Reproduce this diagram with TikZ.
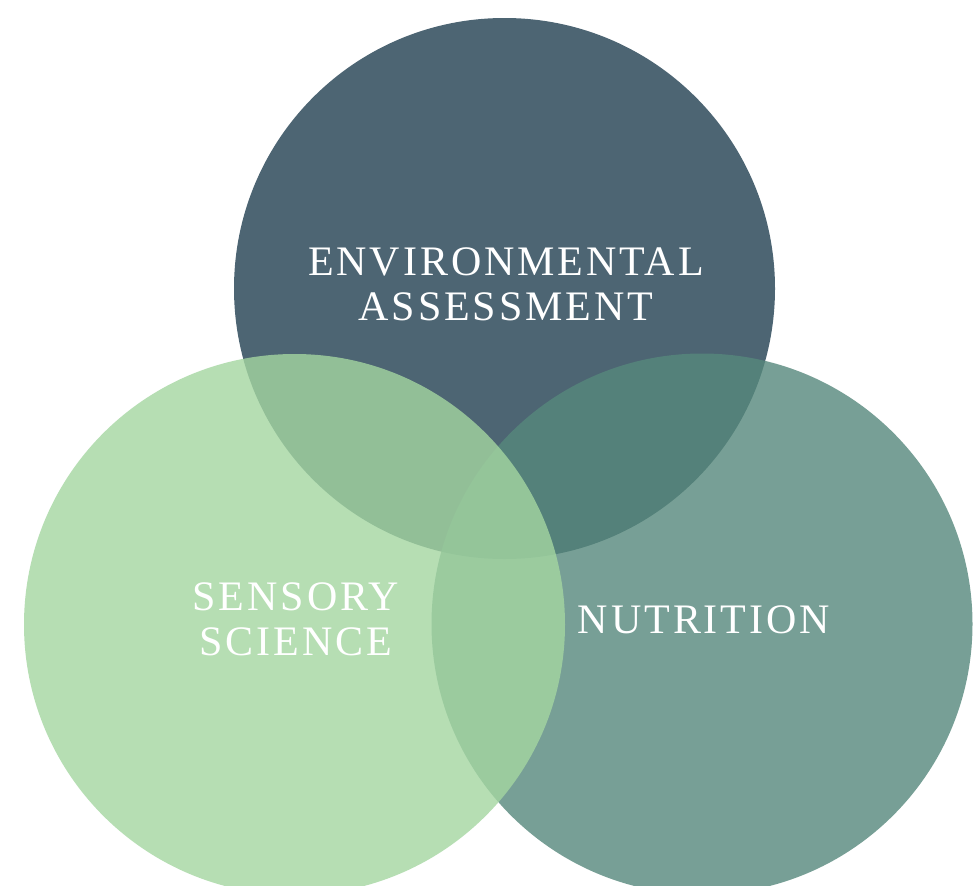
\documentclass[tikz,border=0pt]{standalone}
\usepackage{fontspec}
\setmainfont{Liberation Serif}[LetterSpace=7]
\definecolor{topc}{HTML}{4D6573}
\definecolor{rightc}{HTML}{56887C}
\definecolor{leftc}{HTML}{A4D6A1}
\tikzset{
  venn/.style={circle, minimum size=541pt, inner sep=0pt, draw=none},
  lbl/.style={text=white, font=\fontsize{42}{45}\selectfont, align=center, inner sep=0pt, anchor=base}
}
\begin{document}
\begin{tikzpicture}[x=1pt,y=-1pt]
\useasboundingbox (0,0) rectangle (975,886);
\clip (0,0) rectangle (975,886);
\fill[white] (0,0) rectangle (975,886);
\node[venn, fill=topc] (env) at (504.5,288.5) {};
\node[venn, fill=rightc, fill opacity=0.8] (nut) at (702,624) {};
\node[venn, fill=leftc, fill opacity=0.8] (sen) at (294.5,624.5) {};
\node[lbl] (envt) at (506,320) {ENVIRONMENTAL\\ASSESSMENT};
\node[lbl] (sent) at (296,655) {SENSORY\\SCIENCE};
\node[lbl] (nutt) at (704,633) {NUTRITION};
\end{tikzpicture}
\end{document}
